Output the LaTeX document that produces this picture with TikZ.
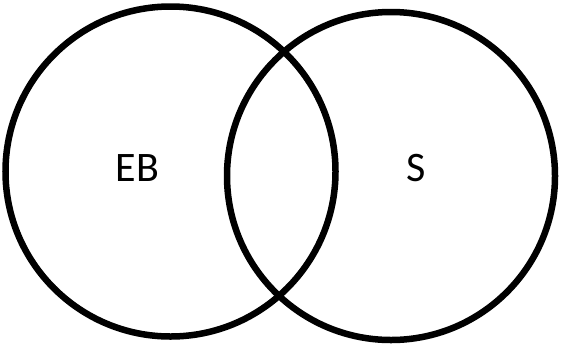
\documentclass[tikz,border=0pt]{standalone}
\usepackage{fontspec}
\setmainfont{Carlito}
\usetikzlibrary{positioning}

\begin{document}
\begin{tikzpicture}[x=1pt,y=-1pt]
  \tikzset{setcirc/.style={draw,circle,line width=6.5pt,inner sep=0pt}}
  \useasboundingbox (0,0) rectangle (561,346);
  \node[setcirc,minimum size=330pt] (ebset) at (170.5,171.5) {};
  \node[setcirc,minimum size=328pt] (sset) at (391,176) {};
  \node[font=\fontsize{42}{50}\selectfont] (eblabel) at (137.5,168.5) {EB};
  \node[font=\fontsize{42}{50}\selectfont] (slabel) at (416,168) {S};
\end{tikzpicture}
\end{document}
